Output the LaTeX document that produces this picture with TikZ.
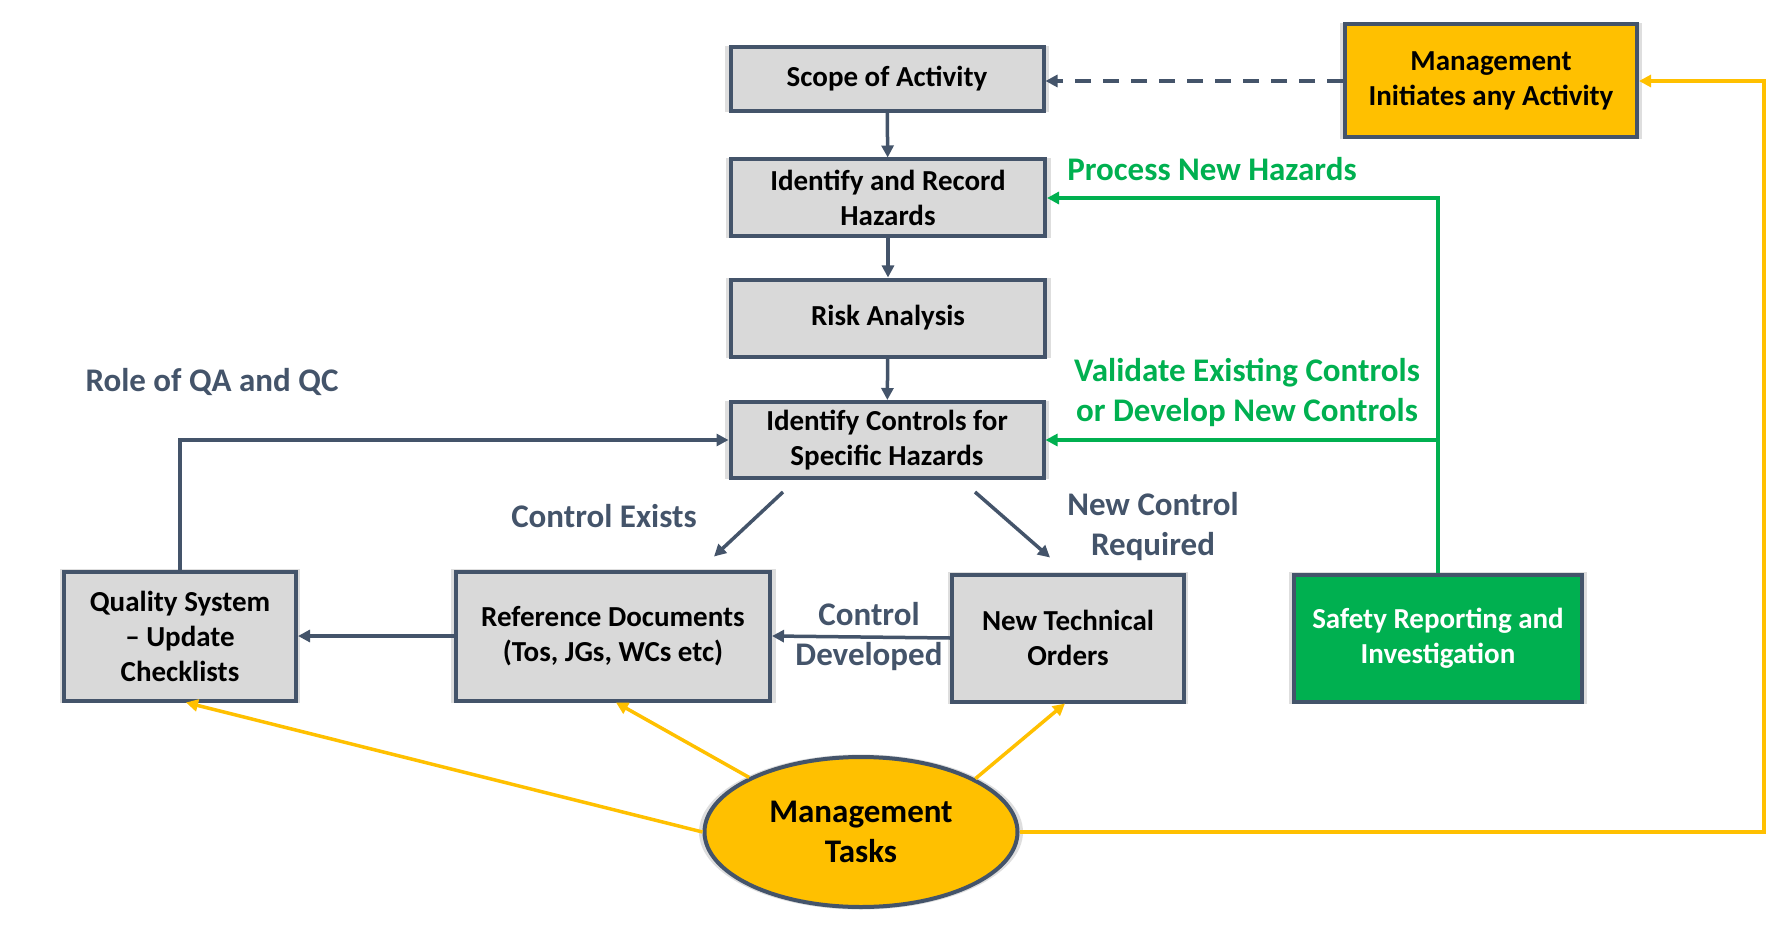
\documentclass[tikz,border=0pt]{standalone}
\usepackage{fontspec}
\setmainfont{Carlito}
\usetikzlibrary{shapes.geometric,shadows,arrows.meta}
\definecolor{slate}{HTML}{44546A}
\definecolor{mgold}{HTML}{FFC000}
\definecolor{mgreen}{HTML}{00B050}
\definecolor{boxgray}{HTML}{D9D9D9}
\tikzset{
  softshadow/.style={drop shadow={shadow xshift=0pt,shadow yshift=0pt,shadow scale=1.035,fill=black,opacity=.13}},
  box/.style={draw=slate,line width=4pt,fill=boxgray,align=center,inner sep=0pt,
    font=\fontsize{29pt}{35pt}\selectfont\bfseries,softshadow},
  lbl/.style={align=center,text=slate,font=\fontsize{33pt}{40pt}\selectfont\bfseries},
  glbl/.style={lbl,text=mgreen},
  flow/.style={draw=slate,line width=3.5pt,->},
  gflow/.style={draw=mgreen,line width=3.5pt,->},
  yflow/.style={draw=mgold,line width=3.5pt,->},
}
\begin{document}
\begin{tikzpicture}[x=1pt,y=-1pt,>={Triangle[length=12pt,width=12pt]},line join=miter]
\useasboundingbox (0,0) rectangle (1771,933);
% boxes
\node[box,minimum width=313pt,minimum height=64pt] (scope) at (887,79) {Scope of Activity};
\node[box,fill=mgold,minimum width=292pt,minimum height=113pt] (mgmtinit) at (1491,81) {Management\\Initiates any Activity};
\node[box,minimum width=314pt,minimum height=77pt] (record) at (888,198) {Identify and Record\\Hazards};
\node[box,minimum width=314pt,minimum height=77pt] (risk) at (888,318) {Risk Analysis};
\node[box,minimum width=313pt,minimum height=76pt] (controls) at (887,440) {Identify Controls for\\Specific Hazards};
\node[box,minimum width=232pt,minimum height=129pt] (quality) at (180,636) {Quality System\\– Update\\Checklists};
\node[box,minimum width=314pt,minimum height=129pt] (refdocs) at (613,636) {Reference Documents\\(Tos, JGs, WCs etc)};
\node[box,minimum width=232pt,minimum height=127pt] (newto) at (1068,638) {New Technical\\Orders};
\node[box,fill=mgreen,text=white,minimum width=288pt,minimum height=127pt] (safety) at (1438,638) {Safety Reporting and\\Investigation};
\node[box,ellipse,fill=mgold,minimum width=313pt,minimum height=150pt,font=\fontsize{33pt}{40pt}\selectfont\bfseries] (tasks) at (861,832) {Management\\Tasks};
% labels
\node[glbl] (newhaz) at (1212,169) {Process New Hazards};
\node[glbl] (validate) at (1247,392) {Validate Existing Controls\\or Develop New Controls};
\node[lbl] (roleqa) at (212,382) {Role of QA and QC};
\node[lbl] (exists) at (604,516) {Control Exists};
\node[lbl] (required) at (1153,527) {New Control\\Required};
\node[lbl] (developed) at (869,637) {Control\\Developed};
% main flow
\draw[flow,dashed,dash pattern=on 16pt off 12pt] (mgmtinit.west) -- (mgmtinit.west -| scope.east);
\draw[flow] (scope) -- (record);
\draw[flow] (record) -- (risk);
\draw[flow] (risk) -- (controls);
\draw[flow] ([xshift=-104pt,yshift=-12pt]controls.south) -- ([xshift=101pt,yshift=13pt]refdocs.north);
\draw[flow] ([xshift=88pt,yshift=-12pt]controls.south) -- ([xshift=-18pt,yshift=15pt]newto.north);
\draw[flow] (newto.west) -- (refdocs.east);
\draw[flow] (refdocs.west) -- (quality.east);
\draw[flow] (quality.north) |- (controls.west);
% safety feedback
\coordinate (gsplit) at (safety.north |- controls.east);
\draw[gflow] (safety.north) |- (record.east);
\draw[gflow] (gsplit) -- (controls.east);
% management tasks
\draw[yflow] (tasks.west) -- ([xshift=6pt]quality.south);
\draw[yflow] (tasks.154) -- ([xshift=3pt]refdocs.south);
\draw[yflow] (tasks.25) -- ([xshift=-3pt]newto.south);
\coordinate (yturn) at (1764,0);
\draw[yflow] (tasks.east) -- (tasks.east -| yturn) -- (yturn |- mgmtinit.east) -- (mgmtinit.east);
\end{tikzpicture}
\end{document}
